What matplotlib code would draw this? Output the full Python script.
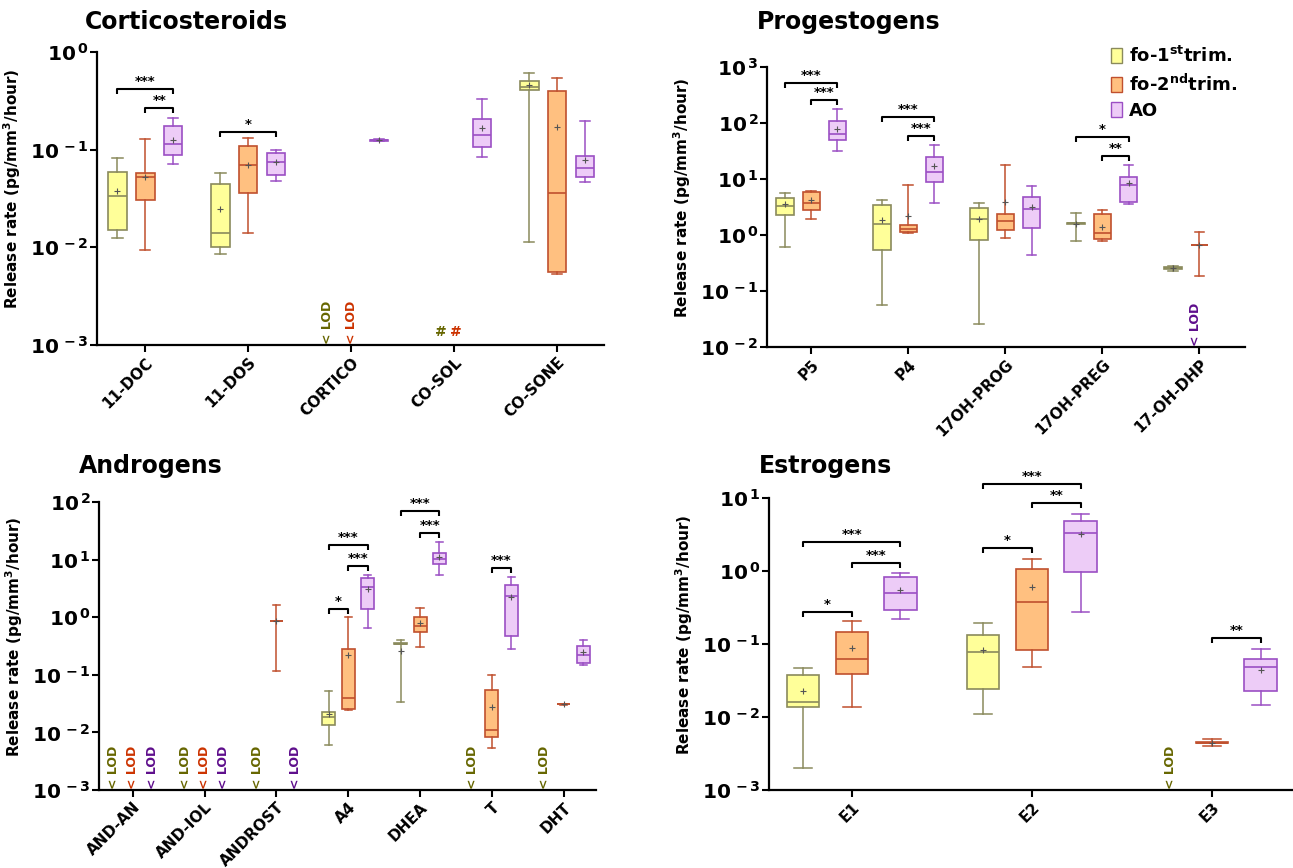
import numpy as np
import matplotlib
matplotlib.use('Agg')
import matplotlib.pyplot as plt
from matplotlib.patches import Patch

plt.rcParams['font.family'] = ['DejaVu Sans']
plt.rcParams['mathtext.fontset'] = 'dejavusans'

# ---------------- data ----------------
group_names = [r'fo-1$^{\mathbf{st}}$trim.', r'fo-2$^{\mathbf{nd}}$trim.', 'AO']
# box tuples: (whislo, q1, median, q3, whishi, mean); 'LOD' = below limit of detection; '#' marker
cort_cats = ['11-DOC', '11-DOS', 'CORTICO', 'CO-SOL', 'CO-SONE']
cort_fo1 = [(0.0124, 0.0152, 0.0333, 0.0586, 0.083, 0.0377),
            (0.0085, 0.0100, 0.0139, 0.0449, 0.058, 0.0245),
            'LOD', '#',
            (0.0114, 0.412, 0.442, 0.51, 0.615, 0.46)]
cort_fo2 = [(0.0094, 0.0305, 0.0529, 0.058, 0.130, 0.053),
            (0.0139, 0.0357, 0.069, 0.108, 0.133, 0.070),
            'LOD', '#',
            (0.00536, 0.00557, 0.036, 0.40, 0.547, 0.17)]
cort_ao = [(0.0706, 0.088, 0.113, 0.173, 0.213, 0.127),
           (0.0474, 0.0546, 0.074, 0.093, 0.0998, 0.075),
           (0.122, 0.123, 0.125, 0.127, 0.128, 0.125),
           (0.0846, 0.107, 0.14, 0.204, 0.331, 0.166),
           (0.0466, 0.052, 0.0643, 0.0867, 0.196, 0.0788)]
cort_sig = [(0, 0, 2, 0.419, '***'), (0, 1, 2, 0.264, '**'), (1, 0, 2, 0.153, '*')]
cort_exp = [-3, -2, -1, 0]

prog_cats = ['P5', 'P4', '17OH-PROG', '17OH-PREG', '17-OH-DHP']
prog_fo1 = [(0.61, 2.31, 3.34, 4.58, 5.7, 3.53),
            (0.0555, 0.547, 1.59, 3.39, 4.27, 1.85),
            (0.0258, 0.80, 1.9, 2.99, 3.73, 1.93),
            (0.77, 1.6, 1.61, 1.62, 2.5, 1.6),
            (0.228, 0.25, 0.257, 0.265, 0.279, 0.255)]
prog_fo2 = [(1.96, 2.83, 3.78, 5.86, 6.1, 4.27),
            (1.09, 1.12, 1.28, 1.49, 7.9, 2.18),
            (0.895, 1.21, 1.75, 2.34, 18.0, 3.94),
            (0.77, 0.85, 1.10, 2.37, 2.76, 1.41),
            (0.183, 0.67, 0.67, 0.67, 1.15, 0.67)]
prog_ao = [(32.0, 50.4, 64.5, 108.6, 178.0, 79.0),
           (3.78, 8.8, 13.5, 25.0, 41.0, 17.3),
           (0.44, 1.31, 2.95, 4.77, 7.5, 3.16),
           (3.53, 3.83, 7.9, 10.9, 18.0, 8.4),
           'LOD']
prog_sig = [(0, 0, 2, 525, '***'), (0, 1, 2, 254, '***'), (1, 0, 2, 130, '***'),
            (1, 1, 2, 57.8, '***'), (3, 0, 2, 56, '*'), (3, 1, 2, 25.7, '**')]
prog_exp = [-2, -1, 0, 1, 2, 3]

andr_cats = ['AND-AN', 'AND-IOL', 'ANDROST', 'A4', 'DHEA', 'T', 'DHT']
andr_fo1 = ['LOD', 'LOD', 'LOD',
            (0.006, 0.0133, 0.0186, 0.023, 0.0519, 0.0207),
            (0.0334, 0.34, 0.345, 0.36, 0.394, 0.264),
            'LOD', 'LOD']
andr_fo2 = ['LOD', 'LOD',
            (0.116, 0.843, 0.843, 0.843, 1.62, 0.843),
            (0.0243, 0.0252, 0.0403, 0.278, 0.99, 0.222),
            (0.302, 0.543, 0.71, 1.0, 1.42, 0.789),
            (0.00537, 0.0082, 0.0109, 0.054, 0.101, 0.0277),
            (0.0305, 0.0307, 0.0308, 0.0309, 0.031, 0.0308)]
andr_ao = ['LOD', 'LOD', 'LOD',
           (0.637, 1.38, 3.33, 4.77, 5.38, 3.12),
           (5.46, 8.36, 10.4, 13.0, 20.2, 11.1),
           (0.279, 0.475, 2.35, 3.56, 4.97, 2.23),
           (0.147, 0.159, 0.222, 0.314, 0.395, 0.244)]
andr_sig = [(3, 0, 1, 1.4, '*'), (3, 0, 2, 17.9, '***'), (3, 1, 2, 7.8, '***'),
            (4, 0, 2, 68.9, '***'), (4, 1, 2, 28.5, '***'), (5, 1, 2, 7.13, '***')]
andr_exp = [-3, -2, -1, 0, 1, 2]

estr_cats = ['E1', 'E2', 'E3']
estr_fo1 = [(0.00198, 0.0136, 0.0163, 0.0382, 0.0471, 0.0225),
            (0.0109, 0.024, 0.0789, 0.132, 0.193, 0.083),
            'LOD']
estr_fo2 = [(0.0139, 0.0386, 0.0619, 0.148, 0.204, 0.0877),
            (0.049, 0.0822, 0.375, 1.06, 1.46, 0.596),
            (0.00401, 0.0044, 0.00446, 0.0045, 0.00496, 0.00446)]
estr_ao = [(0.219, 0.288, 0.503, 0.834, 0.936, 0.547),
           (0.273, 0.977, 3.31, 4.79, 5.97, 3.2),
           (0.0147, 0.023, 0.0481, 0.0626, 0.0867, 0.0443)]
estr_sig = [(0, 0, 2, 2.47, '***'), (0, 1, 2, 1.28, '***'), (0, 0, 1, 0.276, '*'),
            (1, 0, 2, 15.6, '***'), (1, 1, 2, 8.45, '**'), (1, 0, 1, 2.04, '*'),
            (2, 1, 2, 0.12, '**')]
estr_exp = [-3, -2, -1, 0, 1]

# ---------------- styles ----------------
W, H = 1293, 868
fill_c = ['#FFFF99', '#FFC080', '#EDCCF7']
edge_c = ['#8A8A5C', '#C0502E', '#9B4FC4']
text_c = ['#666600', '#CC3300', '#5E0E8C']
offs = [-0.27, 0.0, 0.27]
bw = 0.18

fig = plt.figure(figsize=(W / 100, H / 100), dpi=100)


def px_axes(l, t, r, b):
    return fig.add_axes([l / W, 1 - b / H, (r - l) / W, (b - t) / H])


def draw_panel(ax, title, tpos, cats, groups, sig, exps, xlim, marker_shift=None):
    ylo, yhi = 10.0 ** exps[0], 10.0 ** exps[-1]
    for g, data in enumerate(groups):
        stats, pos = [], []
        for i, d in enumerate(data):
            x = i + offs[g]
            if marker_shift and (i, g) in marker_shift:
                x = i + marker_shift[(i, g)]
            if isinstance(d, tuple):
                wl, q1, md, q3, wh, mn = d
                stats.append(dict(whislo=wl, q1=q1, med=md, q3=q3, whishi=wh, mean=mn, fliers=[]))
                pos.append(x)
            elif d == 'LOD':
                ax.text(x, ylo * 1.03, '< LOD', rotation=90, ha='center', va='bottom',
                        fontsize=9, color=text_c[g], fontweight='bold')
            elif d == '#':
                ax.text(x, 10 ** (exps[0] + 0.13), '#', ha='center', va='center',
                        fontsize=10, color=text_c[g], fontweight='bold')
        if stats:
            ax.bxp(stats, positions=pos, widths=bw, capwidths=bw * 0.55, patch_artist=True,
                   showmeans=True, showfliers=False, manage_ticks=False,
                   boxprops=dict(facecolor=fill_c[g], edgecolor=edge_c[g], linewidth=1.2),
                   medianprops=dict(color=edge_c[g], linewidth=1.2),
                   whiskerprops=dict(color=edge_c[g], linewidth=1.1),
                   capprops=dict(color=edge_c[g], linewidth=1.1),
                   meanprops=dict(marker='+', markersize=5, markeredgecolor='#555555',
                                  markeredgewidth=0.8))
    ax.set_yscale('log')
    ax.set_ylim(ylo, yhi)
    ax.set_xlim(*xlim)
    ax.set_yticks([10.0 ** e for e in exps])
    ax.set_yticklabels([r'$\mathbf{10^{\,%d}}$' % e for e in exps])
    ax.yaxis.set_minor_locator(matplotlib.ticker.NullLocator())
    ax.set_xticks(range(len(cats)))
    ax.set_xticklabels(cats, rotation=45, ha='right', va='top', rotation_mode='anchor',
                       fontsize=11, fontweight='bold')
    ax.tick_params(axis='y', labelsize=14.5, width=1.5, length=5, pad=1)
    ax.tick_params(axis='x', width=1.5, length=5, pad=2)
    for s in ['top', 'right']:
        ax.spines[s].set_visible(False)
    for s in ['left', 'bottom']:
        ax.spines[s].set_linewidth(1.6)
    ax.set_ylabel(r'Release rate (pg/mm$^{\mathbf{3}}$/hour)', fontsize=11, fontweight='bold')
    bbox = ax.get_position()
    axw_px = bbox.width * W
    ax.yaxis.set_label_coords(-74.0 / axw_px, 0.533)
    # significance brackets
    pxdec = bbox.height * H / (exps[-1] - exps[0])
    drop = 10 ** (-5.0 / pxdec)
    for (ci, g1, g2, yv, lab) in sig:
        x1, x2 = ci + offs[g1], ci + offs[g2]
        ax.plot([x1, x1, x2, x2], [yv * drop, yv, yv, yv * drop], color='black', lw=1.5,
                solid_capstyle='butt', clip_on=False)
        ax.text((x1 + x2) / 2, yv * 10 ** (1.0 / pxdec), lab, ha='center', va='bottom',
                fontsize=9.5, fontweight='bold')
    fig.text(tpos[0] / W, 1 - tpos[1] / H, title, fontsize=17, fontweight='bold',
             ha='left', va='center')


ax1 = px_axes(97, 52, 604, 345)
draw_panel(ax1, 'Corticosteroids', (85, 22), cort_cats, [cort_fo1, cort_fo2, cort_ao],
           cort_sig, cort_exp, (-0.469, 4.456),
           marker_shift={(2, 0): -0.23, (3, 0): -0.13, (3, 1): 0.02})

ax2 = px_axes(767, 67, 1245, 347)
draw_panel(ax2, 'Progestogens', (757, 22), prog_cats, [prog_fo1, prog_fo2, prog_ao],
           prog_sig, prog_exp, (-0.456, 4.47), marker_shift={(4, 2): -0.04})

ax3 = px_axes(99, 502, 596, 790)
draw_panel(ax3, 'Androgens', (79, 466), andr_cats, [andr_fo1, andr_fo2, andr_ao],
           andr_sig, andr_exp, (-0.47, 6.45))

ax4 = px_axes(769, 498, 1293, 790)
draw_panel(ax4, 'Estrogens', (759, 466), estr_cats, [estr_fo1, estr_fo2, estr_ao],
           estr_sig, estr_exp, (-0.46, 2.45), marker_shift={(2, 0): -0.23})

handles = [Patch(facecolor=fill_c[g], edgecolor=edge_c[g], linewidth=1.0) for g in range(3)]
fig.legend(handles, group_names, loc='upper left', bbox_to_anchor=(1111 / W, 1 - 46 / H),
           frameon=False, handlelength=0.6, handleheight=0.9, handletextpad=0.4,
           labelspacing=0.4, prop=dict(size=13, weight='bold'), borderaxespad=0,
           borderpad=0)

fig.savefig('out.png', dpi=100)
